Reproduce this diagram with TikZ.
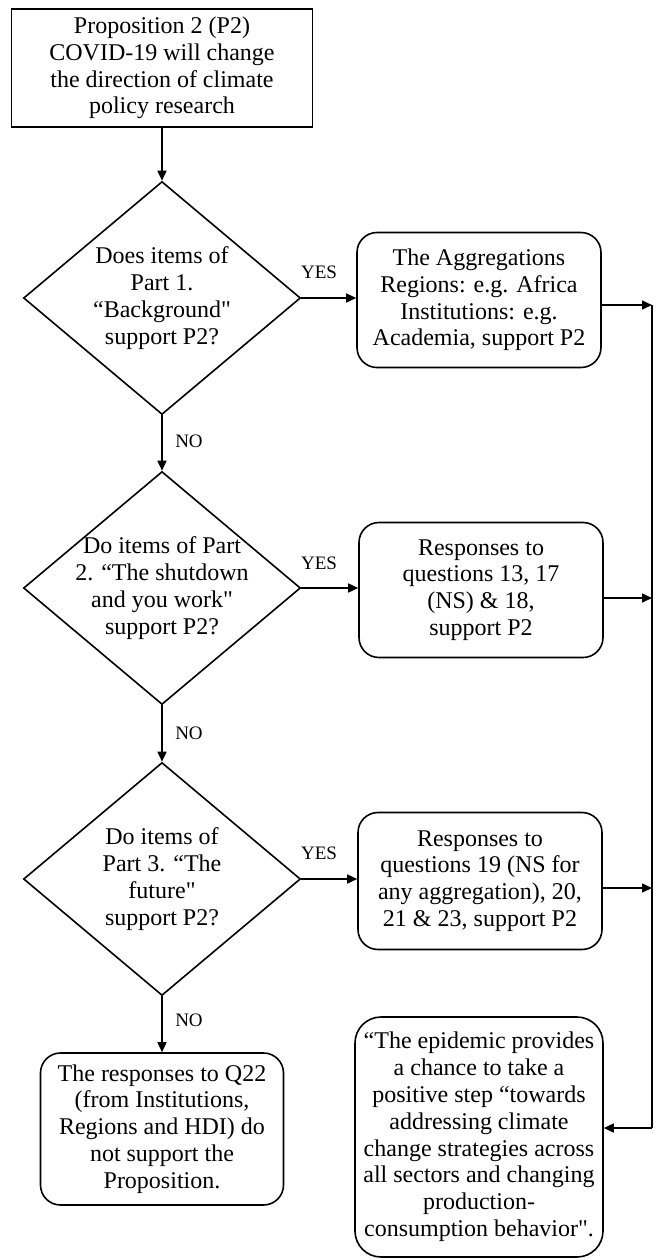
\documentclass[tikz,border=0pt]{standalone}
\usepackage{fontspec}
\setmainfont{Liberation Serif}[Ligatures=TeXOff]
\usetikzlibrary{shapes.geometric,arrows.meta}

\begin{document}
\begin{tikzpicture}[x=0.5pt,y=-0.5pt,
    every node/.style={font=\fontsize{12}{13.4}\selectfont, align=center},
    plainbox/.style={draw, line width=0.8pt, inner sep=2pt, minimum width=150.5pt, minimum height=59pt},
    decision/.style={draw, diamond, line width=0.8pt, aspect=1.2, inner sep=-4pt, minimum width=138.5pt, minimum height=116.5pt},
    outcome/.style={draw, rounded corners=10pt, line width=0.8pt, inner sep=2pt, minimum width=122pt, minimum height=67.5pt},
    lbl/.style={font=\fontsize{9.5}{11}\selectfont, inner sep=0pt},
    flow/.style={line width=0.8pt, -{Triangle[length=5pt,width=4.5pt]}}]
    \useasboundingbox (0,0) rectangle (659,1260);

    % left column
    \node[plainbox] (prop) at (162,68) {Proposition 2 (P2)\\COVID-19 will change\\the direction of climate\\policy research};
    \node[decision] (d1) at (162,298) {Does items of\\Part 1.\\“Background"\\support P2?};
    \node[decision] (d2) at (162,588) {Do items of Part\\2. “The shutdown\\and you work"\\support P2?};
    \node[decision] (d3) at (162,879) {Do items of\\Part 3. “The\\future"\\support P2?};
    \node[outcome, minimum width=121.5pt, minimum height=76pt] (q22) at (162,1129) {The responses to Q22\\(from Institutions,\\Regions and HDI) do\\not support the\\Proposition.};

    % right column
    \node[outcome] (b1) at (479,300) {The Aggregations\\Regions: e.g. Africa\\Institutions: e.g.\\Academia, support P2};
    \node[outcome] (b2) at (481,590) {Responses to\\questions 13, 17\\(NS) \& 18,\\support P2};
    \node[outcome, minimum height=68.5pt] (b3) at (480,881) {Responses to\\questions 19 (NS for\\any aggregation), 20,\\21 \& 23, support P2};
    \node[outcome, rounded corners=13pt, minimum width=124pt, minimum height=120pt] (epi) at (479,1137) {“The epidemic provides\\a chance to take a\\positive step “towards\\addressing climate\\change strategies across\\all sectors and changing\\production-\\consumption behavior".};

    % labels
    \node[lbl] (yes1) at (319,272) {YES};
    \node[lbl] (yes2) at (319,563) {YES};
    \node[lbl] (yes3) at (319,853) {YES};
    \node[lbl] (no1) at (189,441) {NO};
    \node[lbl] (no2) at (189,733) {NO};
    \node[lbl] (no3) at (189,1020) {NO};

    % rail on the right
    \coordinate (r1) at (652,305);
    \coordinate (r2) at (652,598);
    \coordinate (r3) at (652,888);
    \coordinate (r4) at (652,1128);

    \draw[flow] (prop) -- (d1);
    \draw[flow] (d1) -- (d2);
    \draw[flow] (d2) -- (d3);
    \draw[flow] (d3) -- (q22);
    \draw[flow] (d1.east) -- (d1.east -| b1.west);
    \draw[flow] (d2.east) -- (d2.east -| b2.west);
    \draw[flow] (d3.east) -- (d3.east -| b3.west);
    \draw[flow] (b1.east |- r1) -- (r1);
    \draw[flow] (b2.east |- r2) -- (r2);
    \draw[flow] (b3.east |- r3) -- (r3);
    \draw[line width=0.8pt] (r1) -- (r4);
    \draw[flow] (r4) -- (epi.east |- r4);
\end{tikzpicture}
\end{document}
